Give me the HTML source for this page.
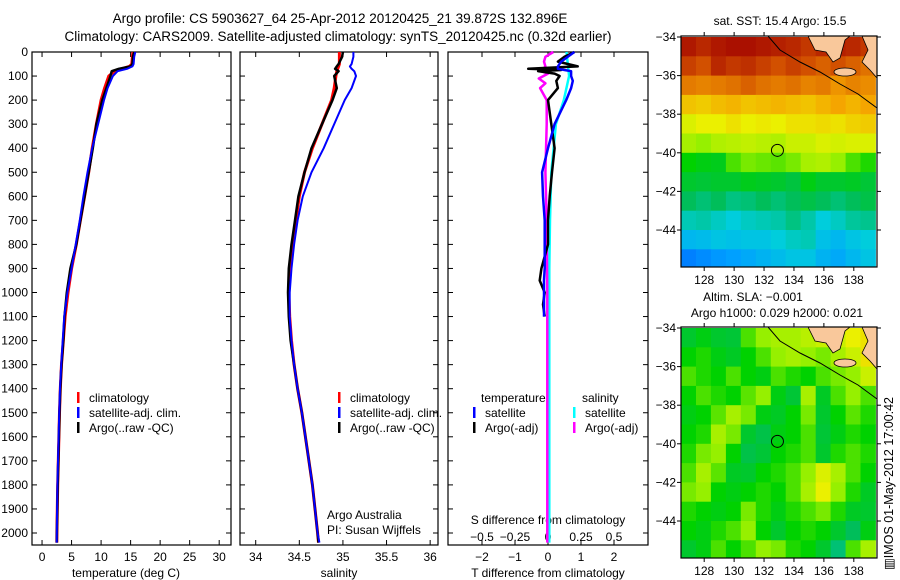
<!DOCTYPE html>
<html><head><meta charset="utf-8"><style>
html,body{margin:0;padding:0;background:#fff;}
svg{display:block;font-family:"Liberation Sans",sans-serif;}
text{fill:#000;}
</style></head><body>
<svg id="fig" width="900" height="580" viewBox="0 0 900 580" xmlns="http://www.w3.org/2000/svg">
<defs>
<clipPath id="c1"><rect x="681" y="36" width="196" height="231"/></clipPath>
<clipPath id="c2"><rect x="681" y="327" width="196" height="231"/></clipPath>
</defs>
<text x="340" y="23" font-size="13.5" text-anchor="middle">Argo profile: CS 5903627_64 25-Apr-2012 20120425_21 39.872S 132.896E</text>
<text x="338" y="41" font-size="13.5" text-anchor="middle">Climatology: CARS2009. Satellite-adjusted climatology: synTS_20120425.nc (0.32d earlier)</text>
<g id="p1"></g>
<g id="p2"></g>
<g id="p3"></g>
<g id="m1"></g>
<g id="m2"></g>
<text transform="translate(893,570) rotate(-90)" font-size="12.5">▥IMOS 01-May-2012 17:00:42</text>
</svg>
<script>
const depth=[0,20,50,60,70,80,100,150,200,300,400,500,600,700,800,900,1000,1100,1200,1300,1400,1500,1600,1700,1800,1900,2000,2040];
const tClim=[15.4,15.3,15.2,14.8,13.5,12.3,11.3,10.6,10.0,9.2,8.5,7.9,7.2,6.5,5.8,5.0,4.4,3.9,3.6,3.3,3.1,2.95,2.85,2.75,2.65,2.58,2.52,2.5];
const tSat=[15.8,15.6,15.5,15.3,14.4,12.8,12.0,11.1,10.5,9.5,8.5,7.7,7.0,6.4,5.7,5.0,4.3,3.75,3.5,3.25,3.05,2.9,2.8,2.7,2.6,2.55,2.5,2.48];
const tArgo=[15.6,15.4,15.3,15.0,13.0,11.8,11.6,10.9,10.2,9.2,8.6,7.9,7.2,6.5,5.8,4.8,4.2,3.8,3.6,3.3,3.1,2.95,2.85,2.75,2.65,2.58,2.52,2.5];
const sClim=[34.96,34.96,34.96,34.95,34.94,34.93,34.92,34.90,34.87,34.76,34.65,34.56,34.50,34.46,34.43,34.40,34.38,34.39,34.41,34.44,34.48,34.53,34.57,34.61,34.65,34.68,34.71,34.72];
const sSat=[35.12,35.12,35.10,35.08,35.10,35.13,35.15,35.10,35.02,34.90,34.78,34.64,34.54,34.48,34.44,34.41,34.39,34.39,34.41,34.44,34.48,34.53,34.57,34.61,34.65,34.68,34.71,34.73];
const sArgo=[35.0,34.99,34.95,34.93,34.91,34.95,34.90,34.93,34.88,34.76,34.64,34.56,34.49,34.45,34.41,34.38,34.37,34.38,34.40,34.44,34.48,34.53,34.57,34.61,34.65,34.68,34.71,34.72];
const dDepth=[0,20,40,60,70,75,80,90,100,120,150,200,300,400,500,600,700,800,900,950,1000,1050,1100];
const dTsat=[0.8,0.6,0.4,0.3,0.3,0.5,0.7,0.7,0.7,0.75,0.7,0.55,0.2,0.0,-0.18,-0.15,-0.1,-0.1,-0.1,-0.12,-0.12,-0.12,-0.12];
const dTargo=[0.8,0.5,0.3,0.9,-0.6,0.4,-0.3,0.2,0.35,0.25,0.3,0.0,0.1,0.2,0.12,0.05,0.0,0.0,-0.2,-0.25,-0.1,-0.15,-0.1];
const dSsatDepth=[0,50,100,200,300,500,700,900,1200,1500,2000,2040];
const dSsat=[0.14,0.15,0.16,0.12,0.06,0.025,0.015,0.01,0.01,0.01,0.01,0.01];
const dSargoDepth=[0,20,40,60,80,90,110,130,150,200,300,500,700,1000,1500,2000,2040];
const dSargo=[0.04,-0.02,-0.03,-0.02,-0.05,0.0,-0.07,-0.02,-0.06,-0.01,-0.01,-0.02,-0.01,-0.005,-0.005,-0.005,-0.005];
const depthTicks=[0,100,200,300,400,500,600,700,800,900,1000,1100,1200,1300,1400,1500,1600,1700,1800,1900,2000];
const tTicks=[0,5,10,15,20,25,30];
const sTicks=[34,34.5,35,35.5,36];
const sTickLabels=["34","34.5","35","35.5","36"];
const dTTicks=[-2,-1,0,1,2];
const dSTicks=[-0.5,-0.25,0,0.25,0.5];
const dSTickLabels=["\u22120.5","\u22120.25","0","0.25","0.5"];
const latTicks=[-34,-36,-38,-40,-42,-44];
const lonTicks=[128,130,132,134,136,138];
const sstGrid=[
[.97,.95,.97,.98,.98,.97,.96,.95,.93,.95,.96,.95,.93],
[.92,.90,.95,.93,.94,.92,.90,.92,.90,.88,.90,.88,.86],
[.85,.84,.85,.86,.88,.86,.85,.86,.84,.85,.82,.84,.83],
[.76,.75,.77,.78,.76,.77,.78,.77,.76,.78,.80,.78,.80],
[.68,.70,.70,.72,.70,.71,.70,.72,.72,.73,.72,.74,.75],
[.62,.60,.63,.64,.65,.64,.63,.66,.66,.68,.67,.68,.68],
[.50,.48,.47,.55,.58,.57,.56,.58,.62,.63,.60,.55,.52],
[.45,.44,.45,.45,.47,.46,.45,.43,.48,.45,.45,.46,.44],
[.40,.38,.40,.37,.38,.40,.38,.40,.42,.40,.38,.40,.42],
[.33,.34,.32,.30,.32,.33,.34,.37,.34,.30,.32,.35,.36],
[.25,.26,.28,.27,.28,.28,.30,.32,.33,.27,.25,.28,.30],
[.12,.15,.18,.20,.22,.24,.26,.28,.28,.24,.22,.25,.28]];
const slaGrid=[
[.45,.48,.45,.44,.55,.60,.62,.62,.64,.66,.66,.70,.72],
[.50,.52,.48,.46,.50,.55,.60,.62,.60,.58,.62,.66,.72],
[.55,.52,.50,.55,.50,.48,.55,.52,.50,.55,.58,.60,.66],
[.50,.55,.52,.50,.56,.60,.48,.44,.62,.46,.55,.60,.55],
[.48,.50,.56,.62,.58,.48,.46,.50,.58,.45,.50,.56,.52],
[.50,.52,.62,.58,.45,.42,.48,.50,.55,.44,.48,.52,.50],
[.52,.58,.60,.50,.42,.44,.50,.52,.55,.45,.52,.55,.52],
[.55,.62,.56,.46,.45,.50,.52,.55,.60,.68,.62,.55,.50],
[.58,.60,.50,.48,.50,.52,.50,.55,.62,.70,.60,.52,.46],
[.52,.50,.48,.50,.58,.52,.48,.52,.55,.58,.52,.46,.45],
[.50,.48,.52,.55,.60,.50,.45,.50,.52,.50,.45,.40,.48],
[.45,.48,.55,.50,.55,.60,.58,.52,.50,.45,.38,.55,.62]];
const argoLon=132.896, argoLat=-39.872;

const NS="http://www.w3.org/2000/svg";
function mk(parent,tag,attrs,name){const e=document.createElementNS(NS,tag);for(const k in attrs)e.setAttribute(k,attrs[k]);


parent.appendChild(e);return e;}
function txt(parent,x,y,s,size,anchor,name){const t=mk(parent,'text',{x:x,y:y,'font-size':size,'text-anchor':anchor},name);t.textContent=s;return t;}
const T=52, B=545;
const yD=d=>T+d*0.2405;
function panel(g,L,R,xmin,xmax){
  const xs=v=>L+(v-xmin)/(xmax-xmin)*(R-L);
  mk(g,'rect',{x:L,y:T,width:R-L,height:B-T,fill:'#fff',stroke:'#000','stroke-width':1.2},'panel-frame');
  depthTicks.forEach(d=>{const y=yD(d);
    mk(g,'line',{x1:L,x2:L+5,y1:y,y2:y,stroke:'#000'},'y-tick');
    mk(g,'line',{x1:R-5,x2:R,y1:y,y2:y,stroke:'#000'},'y-tick');});
  return xs;
}
function xt(g,xs,ticks,labels,y){ticks.forEach((v,i)=>{const x=xs(v);
  mk(g,'line',{x1:x,x2:x,y1:B,y2:B-5,stroke:'#000'},'x-tick');
  mk(g,'line',{x1:x,x2:x,y1:T,y2:T+5,stroke:'#000'},'x-tick');
  txt(g,x,y,labels[i],12,'middle','x-tick-label');});}
function line(g,xs,ds,vs,col,w,name){const pts=ds.map((d,i)=>xs(vs[i]).toFixed(1)+','+yD(d).toFixed(1)).join(' ');
  mk(g,'polyline',{points:pts,fill:'none',stroke:col,'stroke-width':w,'stroke-linejoin':'round'},name);}
function legend(g,x,y,col,label){mk(g,'rect',{x:x,y:y-10,width:2.5,height:11,fill:col},'legend-swatch');txt(g,x+12,y,label,12,'start','legend-label');}

const p1=document.getElementById('p1');
const x1=panel(p1,32,231,-1.7,32);
depthTicks.forEach(d=>txt(p1,28,yD(d)+4,String(d),12,'end','depth-tick-label'));
xt(p1,x1,tTicks,tTicks.map(String),561);
txt(p1,126,577,'temperature (deg C)',12,'middle','x-axis-title');
line(p1,x1,depth,tClim,'#f00',3,'temp-climatology-line');
line(p1,x1,depth,tArgo,'#000',2.5,'temp-argo-line');
line(p1,x1,depth,tSat,'#00f',2,'temp-satellite-line');
legend(p1,77,402,'#f00','climatology');legend(p1,77,417,'#00f','satellite-adj. clim.');legend(p1,77,432,'#000','Argo(..raw -QC)');

const p2=document.getElementById('p2');
const x2=panel(p2,240,438,33.82,36.09);
xt(p2,x2,sTicks,sTickLabels,561);
txt(p2,339,577,'salinity',12,'middle','x-axis-title');
line(p2,x2,depth,sClim,'#f00',3,'sal-climatology-line');
line(p2,x2,depth,sArgo,'#000',2.5,'sal-argo-line');
line(p2,x2,depth,sSat,'#00f',2,'sal-satellite-line');
legend(p2,338,402,'#f00','climatology');legend(p2,338,417,'#00f','satellite-adj. clim.');legend(p2,338,432,'#000','Argo(..raw -QC)');
txt(p2,327,519,'Argo Australia',12,'start','credit-line');
txt(p2,327,534,'PI: Susan Wijffels',12,'start','pi-line');

const p3=document.getElementById('p3');
const x3=panel(p3,448,648,-3.03,3.03);
const x3s=v=>x3(v*4);
xt(p3,x3,dTTicks,dTTicks.map(v=>v<0?'\u2212'+(-v):String(v)),561);
dSTicks.forEach((v,i)=>txt(p3,x3s(v),541,dSTickLabels[i],12,'middle','s-tick-label'));
txt(p3,548,524,'S difference from climatology',12,'middle','s-axis-title');
txt(p3,548,577,'T difference from climatology',12,'middle','x-axis-title');
line(p3,x3s,dSsatDepth,dSsat,'#0ff',2.5,'sdiff-satellite-line');
line(p3,x3s,dSargoDepth,dSargo,'#f0f',2.5,'sdiff-argo-line');
line(p3,x3,dDepth,dTargo,'#000',2.5,'tdiff-argo-line');
line(p3,x3,dDepth,dTsat,'#00f',2.5,'tdiff-satellite-line');
txt(p3,481,402,'temperature',12,'start','legend-header');txt(p3,582,402,'salinity',12,'start','legend-header');
legend(p3,473,417,'#00f','satellite');legend(p3,473,432,'#000','Argo(-adj)');
legend(p3,573,417,'#0ff','satellite');legend(p3,573,432,'#f0f','Argo(-adj)');

const stops=[[0,[0,80,255]],[.2,[0,160,255]],[.3,[0,205,220]],[.4,[0,190,90]],[.5,[0,210,0]],[.6,[150,240,0]],[.7,[235,240,0]],[.8,[245,165,0]],[.9,[210,80,0]],[1,[160,0,0]]];
function cmap(v){for(let i=1;i<stops.length;i++){if(v<=stops[i][0]){const a=stops[i-1],b=stops[i],f=(v-a[0])/(b[0]-a[0]);
  const c=a[1].map((q,k)=>Math.round(q+(b[1][k]-q)*f));return 'rgb('+c.join(',')+')';}}return 'rgb(160,0,0)';}
function map(g,top,grid,clip,lonLabelY){
  const L=681,R=877,H=231;
  const lx=lon=>L+(lon-126.45)/(139.55-126.45)*(R-L);
  const ly=lat=>top+1+(-34-lat)*19.3;
  const cg=mk(g,'g',{'clip-path':'url(#'+clip+')'},'map-image');
  grid.forEach((row,r)=>row.forEach((v,c)=>{
    const x0=lx(126.45+c), y0=ly(-34-r);
    mk(cg,'rect',{x:x0.toFixed(1),y:y0.toFixed(1),width:15.4,height:19.8,fill:cmap(v)},'heatmap-cell');}));
  const land='M808,0 L815,14 L826,16 L833,26 L840,22 L845,4 L850,0 Z M862,0 L868,14 L862,26 L870,34 L877,42 L877,0 Z';
  mk(cg,'path',{d:land,fill:'#f9c89b',stroke:'#000','stroke-width':0.8,transform:'translate(0,'+top+')'},'land');
  mk(cg,'ellipse',{cx:845,cy:top+36,rx:11,ry:4,fill:'#f9c89b',stroke:'#000','stroke-width':0.8},'island');
  mk(cg,'polyline',{points:[[768,0],[780,14],[800,26],[820,36],[840,48],[858,58],[877,72]].map(p=>p[0]+','+(p[1]+top)).join(' '),fill:'none',stroke:'#000','stroke-width':1},'shelf-contour');
  mk(g,'rect',{x:L,y:top,width:R-L,height:H,fill:'none',stroke:'#000','stroke-width':1.2},'map-frame');
  latTicks.forEach(lat=>{const y=ly(lat);mk(g,'line',{x1:L-4,x2:L,y1:y,y2:y,stroke:'#000'},'lat-tick');
    mk(g,'line',{x1:R,x2:R+4,y1:y,y2:y,stroke:'#000'},'lat-tick');
    txt(g,L-5,y+4,String(lat).replace('-','\u2212'),12,'end','lat-tick-label');});
  lonTicks.forEach(lon=>{const x=lx(lon);mk(g,'line',{x1:x,x2:x,y1:top,y2:top-4,stroke:'#000'},'lon-tick');
    mk(g,'line',{x1:x,x2:x,y1:top+H,y2:top+H+4,stroke:'#000'},'lon-tick');
    txt(g,x,lonLabelY,String(lon),12,'middle','lon-tick-label');});
  mk(g,'circle',{cx:lx(argoLon),cy:ly(argoLat),r:6,fill:'none',stroke:'#000','stroke-width':1},'argo-location-marker');
}
const m1=document.getElementById('m1');map(m1,36,sstGrid,'c1',284);
txt(m1,780,25,'sat. SST: 15.4 Argo: 15.5',12,'middle','sst-map-title');
const m2=document.getElementById('m2');map(m2,327,slaGrid,'c2',575);
txt(m2,753,301,'Altim. SLA: \u22120.001',12,'middle','sla-map-title');
txt(m2,777,317,'Argo h1000: 0.029 h2000: 0.021',12,'middle','sla-map-subtitle');
</script>
</body></html>
